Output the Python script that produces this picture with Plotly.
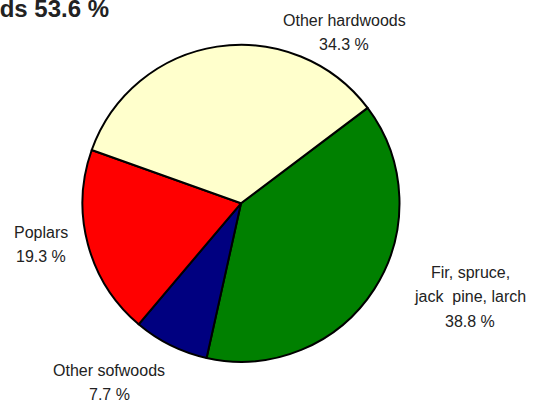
import plotly.graph_objects as go

categories = ["Fir, spruce, jack pine, larch", "Other sofwoods", "Poplars", "Other hardwoods"]
values = [38.8, 7.7, 19.3, 34.3]
colors = ["#008000", "#000080", "#FF0000", "#FFFFCC"]
label_lines = [["Fir, spruce,", "jack\u00a0 pine, larch", "38.8 %"],
               ["Other sofwoods", "7.7 %"],
               ["Poplars", "19.3 %"],
               ["Other hardwoods", "34.3 %"]]
title_text = "Hardwoods 53.6 %"

W, H = 533, 402
cx, cy, r = 241, 203.3, 158.5

fig = go.Figure(go.Pie(
    labels=categories, values=values, sort=False, direction="clockwise", rotation=53,
    marker=dict(colors=colors, line=dict(color="black", width=2)),
    textinfo="none", hoverinfo="label+percent", showlegend=False,
    domain=dict(x=[(cx - r) / W, (cx + r) / W], y=[1 - (cy + r) / H, 1 - (cy - r) / H]),
))

font = dict(family="Liberation Sans", size=16, color="#222222")
label_x = [470, 109, 41, 344]
label_y0 = [272, 370, 232, 20]
line_gap = 24.5
annotations = []
for lines, x, y0 in zip(label_lines, label_x, label_y0):
    for i, txt in enumerate(lines):
        y = y0 + i * line_gap
        annotations.append(dict(text=txt, x=x / W, y=1 - y / H, xref="paper", yref="paper",
                                showarrow=False, xanchor="center", yanchor="middle",
                                align="center", font=font))
annotations.append(dict(text="<b>" + title_text + "</b>", x=111 / W, y=1 - 8 / H,
                        xref="paper", yref="paper", showarrow=False, xanchor="right",
                        yanchor="middle", font=dict(family="Liberation Sans", size=24, color="#222222")))

fig.update_layout(width=W, height=H, margin=dict(l=0, r=0, t=0, b=0),
                  paper_bgcolor="white", plot_bgcolor="white", annotations=annotations)
fig.write_html("out.html", config={"displayModeBar": False},
               post_script="document.body.style.margin='0';document.body.style.overflow='hidden';")
